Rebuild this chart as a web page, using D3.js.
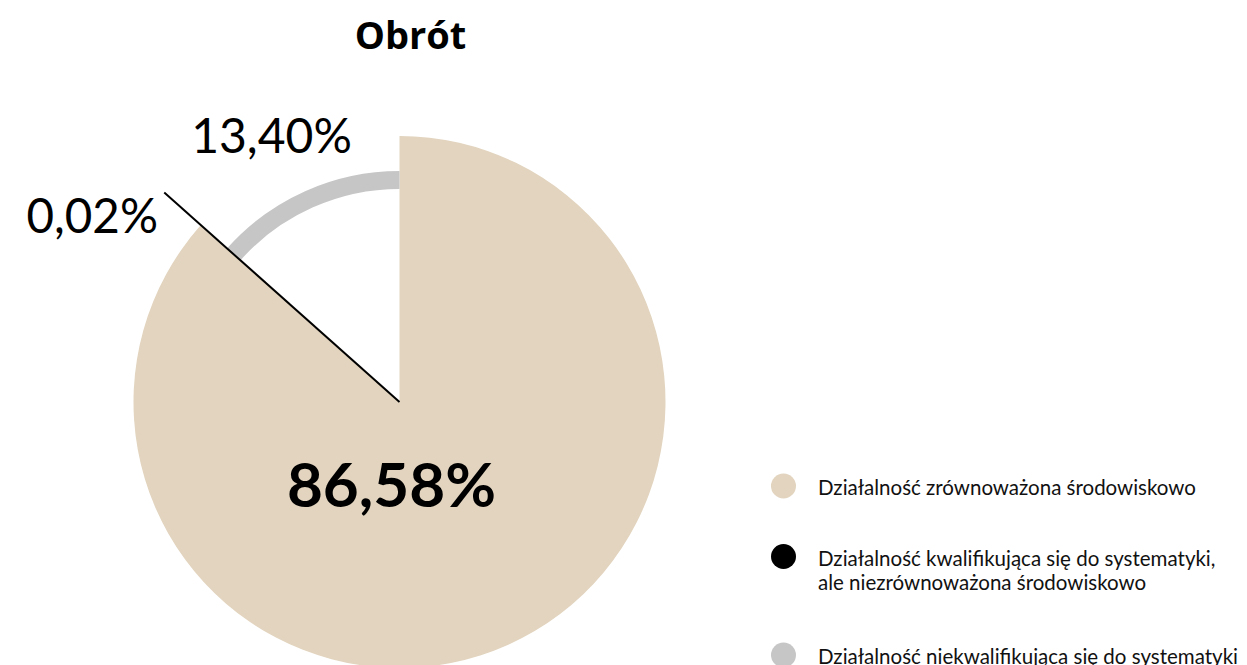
<!DOCTYPE html>
<html><head><meta charset="utf-8">
<script src="https://cdn.jsdelivr.net/npm/d3@7"></script>
<style>
html,body{margin:0;padding:0;background:#fff;overflow:hidden}
text{font-family:Lato,"Open Sans",sans-serif}
</style></head>
<body><svg id="c" width="1247" height="665"></svg>
<script>
const title = "Obrót";
const categories = [
  "Działalność zrównoważona środowiskowo",
  "Działalność kwalifikująca się do systematyki, ale niezrównoważona środowiskowo",
  "Działalność niekwalifikująca się do systematyki"
];
const legendLines = [
  ["Działalność zrównoważona środowiskowo"],
  ["Działalność kwalifikująca się do systematyki,", "ale niezrównoważona środowiskowo"],
  ["Działalność niekwalifikująca się do systematyki"]
];
const values = [86.58, 0.02, 13.40];
const valueLabels = ["86,58%", "0,02%", "13,40%"];
const colors = ["#e2d4be", "#000000", "#c6c6c6"];

const svg = d3.select("#c");
const cx = 399.5, cy = 402, R = 266;

svg.append("text").attr("x", 410.5).attr("y", 49).attr("text-anchor", "middle")
  .style("font-family", "'Open Sans', sans-serif")
  .attr("font-size", 38).attr("font-weight", 700).text(title);

const pie = d3.pie().sort(null).value(d => d)(values);
const g = svg.append("g").attr("transform", `translate(${cx},${cy})`);

// beige main slice
g.append("path").attr("d", d3.arc().innerRadius(0).outerRadius(R)(pie[0])).attr("fill", colors[0]);
// grey slice as a thin ring band
g.append("path").attr("d", d3.arc().innerRadius(213).outerRadius(231)(pie[2])).attr("fill", colors[2]);
// black tiny slice as a line
const a = pie[1].startAngle;
const L = 315;
g.append("line").attr("x1", 0).attr("y1", 0)
  .attr("x2", L * Math.sin(a)).attr("y2", -L * Math.cos(a))
  .attr("stroke", colors[1]).attr("stroke-width", 2);

// value labels
svg.append("text").attr("x", 391.5).attr("y", 507).attr("text-anchor", "middle")
  .attr("font-size", 62).attr("font-weight", 700).text(valueLabels[0]);
svg.append("text").attr("x", 158).attr("y", 233).attr("text-anchor", "end")
  .attr("font-size", 47.5).text(valueLabels[1]);
svg.append("text").attr("x", 271.5).attr("y", 153).attr("text-anchor", "middle")
  .attr("font-size", 48).text(valueLabels[2]);

// legend
const legY = [486, 556.5, 655];
const lg = svg.append("g");
categories.forEach((c, i) => {
  lg.append("circle").attr("cx", 783.5).attr("cy", legY[i]).attr("r", 12.5).attr("fill", colors[i]);
  legendLines[i].forEach((ln, j) => {
    lg.append("text").attr("x", 818).attr("y", legY[i] + 9 + j * 24)
      .attr("font-size", 20.5).attr("fill", "#111").text(ln);
  });
});
</script></body></html>
